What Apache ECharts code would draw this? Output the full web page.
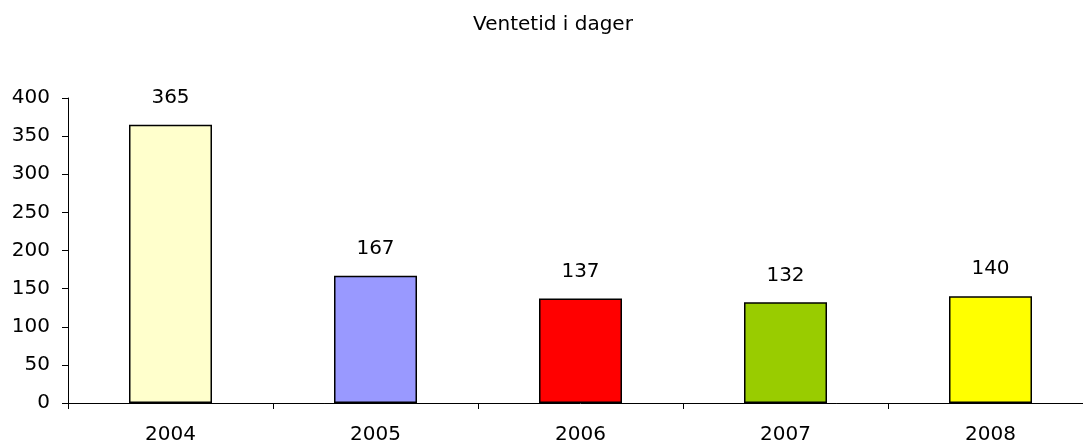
<!DOCTYPE html>
<html>
<head>
<meta charset="utf-8">
<script src="https://cdn.jsdelivr.net/npm/echarts@6/dist/echarts.min.js"></script>
<style>
  html, body { margin: 0; padding: 0; background: #fff; overflow: hidden; }
  /* plot runs a little past the right edge in the original, so the canvas is wider than the window */
  #chart { width: 1093px; height: 445px; }
</style>
</head>
<body>
<div id="chart"></div>
<script>
// data
var years = ['2004', '2005', '2006', '2007', '2008'];
var days = [365, 167, 137, 132, 140];
var barColors = ['#FFFFCC', '#9999FF', '#FF0000', '#99CC00', '#FFFF00'];

var font = 'DejaVu Sans';
var myChart = echarts.init(document.getElementById('chart'));

var option = {
  animation: false,
  title: {
    text: 'Ventetid i dager',
    left: 548,
    textAlign: 'center',
    top: 10,
    textStyle: {
      fontFamily: font,
      fontSize: 20,
      fontWeight: 'normal',
      color: '#000'
    }
  },
  grid: {
    left: 68,
    top: 98,
    right: 0,
    height: 307
  },
  xAxis: {
    type: 'category',
    data: years,
    axisLine: { lineStyle: { color: '#000', width: 1 } },
    axisTick: { show: true, length: 6, lineStyle: { color: '#000' } },
    axisLabel: {
      margin: 22,
      fontFamily: font,
      fontSize: 20,
      color: '#000'
    }
  },
  yAxis: {
    type: 'value',
    min: 0,
    max: 400,
    interval: 50,
    splitLine: { show: false },
    axisLine: { show: true, lineStyle: { color: '#000', width: 1 } },
    axisTick: { show: true, length: 6, lineStyle: { color: '#000' } },
    axisLabel: {
      margin: 18,
      fontFamily: font,
      fontSize: 20,
      color: '#000'
    }
  },
  series: [{
    type: 'bar',
    barWidth: 83,
    data: days.map(function (v, i) {
      return {
        value: v,
        itemStyle: { color: barColors[i], borderColor: '#000', borderWidth: 1.5 }
      };
    }),
    label: {
      show: true,
      position: 'top',
      distance: 17,
      fontFamily: font,
      fontSize: 20,
      color: '#000'
    }
  }]
};

myChart.setOption(option, true);
</script>
</body>
</html>
